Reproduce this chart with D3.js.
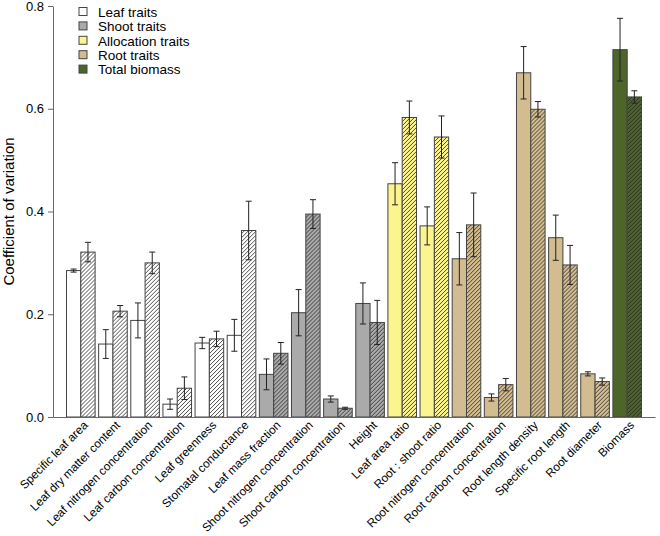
<!DOCTYPE html>
<html>
<head>
<meta charset="utf-8">
<script src="https://cdn.jsdelivr.net/npm/d3@7"></script>
<style>
  body { margin: 0; background: #fff; }
  svg { font-family: "Liberation Sans", Arial, sans-serif; }
</style>
</head>
<body>
<svg id="chart" width="660" height="536"></svg>
<script>
// traits along the x axis
const traits = [
    "Specific leaf area", "Leaf dry matter content", "Leaf nitrogen concentration",
    "Leaf carbon concentration", "Leaf greenness", "Stomatal conductance",
    "Leaf mass fraction", "Shoot nitrogen concentration", "Shoot carbon concentration",
    "Height", "Leaf area ratio", "Root : shoot ratio", "Root nitrogen concentration",
    "Root carbon concentration", "Root length density", "Specific root length",
    "Root diameter", "Biomass"
];
// trait group of each trait
const traitGroup = [0, 0, 0, 0, 0, 0, 1, 1, 1, 1, 2, 2, 3, 3, 3, 3, 3, 4];
const groupNames = ["Leaf traits", "Shoot traits", "Allocation traits", "Root traits", "Total biomass"];

// open bars and hatched bars, with their error
const openValues = [0.285, 0.142, 0.188, 0.025, 0.144, 0.159, 0.083, 0.203, 0.035, 0.221, 0.454, 0.372, 0.308, 0.038, 0.670, 0.349, 0.084, 0.715];
const openErrors = [0.003, 0.028, 0.034, 0.010, 0.011, 0.031, 0.030, 0.045, 0.006, 0.040, 0.041, 0.037, 0.051, 0.007, 0.051, 0.044, 0.004, 0.061];
const hatchValues = [0.321, 0.206, 0.300, 0.056, 0.152, 0.363, 0.124, 0.395, 0.017, 0.184, 0.583, 0.545, 0.374, 0.063, 0.599, 0.296, 0.069, 0.623];
const hatchErrors = [0.019, 0.011, 0.021, 0.022, 0.015, 0.057, 0.021, 0.028, 0.002, 0.043, 0.032, 0.041, 0.062, 0.012, 0.015, 0.038, 0.007, 0.012];

const yTicks = [0, 0.2, 0.4, 0.6, 0.8];

const colors = ["#ffffff", "#aaaaaa", "#fcf48e", "#d3bd90", "#4d6529"];

const svg = d3.select("#chart");
const margin = { left: 53, right: 5, top: 6, bottom: 119 };
const width = 660, height = 536;

const x = d3.scaleBand()
    .domain(traits)
    .range([margin.left, width - margin.right])
    .paddingInner(0.11)
    .paddingOuter(0.42);

const sub = d3.scaleBand()
    .domain(["open", "hatch"])
    .range([0, x.bandwidth()]);

const y = d3.scaleLinear()
    .domain([0, 0.8])
    .range([height - margin.bottom, margin.top]);

// hatch patterns, one for each colour
const defs = svg.append("defs");
colors.forEach((c, i) => {
    const p = defs.append("pattern")
        .attr("id", "hatch" + i)
        .attr("patternUnits", "userSpaceOnUse")
        .attr("width", 4).attr("height", 4);
    p.append("rect").attr("width", 4).attr("height", 4).attr("fill", c);
    p.append("path")
        .attr("d", "M-1,1 l2,-2 M0,4 l4,-4 M3,5 l2,-2")
        .attr("stroke", "#222")
        .attr("stroke-width", 0.8);
});

const rows = traits.map((t, i) => ({
    trait: t, g: traitGroup[i],
    bars: [
        { key: "open", v: openValues[i], e: openErrors[i] },
        { key: "hatch", v: hatchValues[i], e: hatchErrors[i] }
    ]
}));

const groups = svg.append("g").selectAll("g")
    .data(rows)
    .enter().append("g")
    .attr("transform", d => `translate(${x(d.trait)},0)`);

groups.selectAll("rect")
    .data(d => d.bars.map(b => ({ ...b, g: d.g })))
    .enter().append("rect")
    .attr("x", d => sub(d.key))
    .attr("width", sub.bandwidth())
    .attr("y", d => y(d.v))
    .attr("height", d => y(0) - y(d.v))
    .attr("fill", d => d.key === "open" ? colors[d.g] : `url(#hatch${d.g})`)
    .attr("stroke", "#444")
    .attr("stroke-width", 1);

// error bars
const err = groups.selectAll("g.err")
    .data(d => d.bars)
    .enter().append("g")
    .attr("class", "err")
    .attr("stroke", "#222")
    .attr("stroke-width", 1);

const cx = d => sub(d.key) + sub.bandwidth() / 2;
err.append("line")
    .attr("x1", cx).attr("x2", cx)
    .attr("y1", d => y(d.v - d.e)).attr("y2", d => y(d.v + d.e));
err.append("line")
    .attr("x1", d => cx(d) - 3).attr("x2", d => cx(d) + 3)
    .attr("y1", d => y(d.v + d.e)).attr("y2", d => y(d.v + d.e));
err.append("line")
    .attr("x1", d => cx(d) - 3).attr("x2", d => cx(d) + 3)
    .attr("y1", d => y(d.v - d.e)).attr("y2", d => y(d.v - d.e));

// axes
const yAxis = svg.append("g")
    .attr("transform", `translate(${margin.left},0)`)
    .call(d3.axisLeft(y).tickValues(yTicks).tickFormat(d3.format(".1f")).tickSize(5).tickSizeOuter(0));
yAxis.selectAll("text").attr("font-size", 13).attr("fill", "#000").attr("dx", "-1");
yAxis.selectAll("line, path").attr("stroke", "#666");

const xAxis = svg.append("g")
    .attr("transform", `translate(0,${y(0)})`)
    .call(d3.axisBottom(x).tickSize(0).tickSizeOuter(0));
xAxis.select("path").attr("stroke", "#666");
xAxis.selectAll("text")
    .attr("font-size", 11.8)
    .attr("fill", "#000")
    .attr("text-anchor", "end")
    .attr("transform", "translate(2,3) rotate(-45)")
    .attr("dy", "0.7em")
    .attr("y", 0);

svg.append("text")
    .attr("transform", `translate(14,${(y(0) + y(0.8)) / 2}) rotate(-90)`)
    .attr("text-anchor", "middle")
    .attr("font-size", 15)
    .text("Coefficient of variation");

// legend
const legend = svg.append("g").selectAll("g")
    .data(groupNames)
    .enter().append("g")
    .attr("transform", (d, i) => `translate(79,${12 + i * 14.4})`);
legend.append("rect")
    .attr("x", 0).attr("y", -4.5)
    .attr("width", 8).attr("height", 8)
    .attr("fill", (d, i) => colors[i])
    .attr("stroke", "#444");
legend.append("text")
    .attr("x", 19).attr("y", 0)
    .attr("dy", "0.35em")
    .attr("font-size", 13.5)
    .text(d => d);
</script>
</body>
</html>
